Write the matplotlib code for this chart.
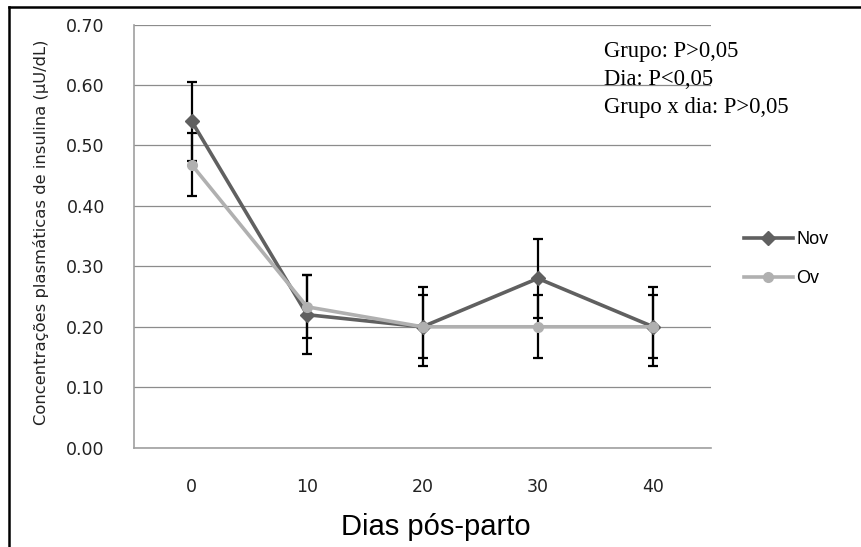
import matplotlib
matplotlib.use("Agg")
import matplotlib.pyplot as plt
from matplotlib.lines import Line2D
import numpy as np

days = ["0", "10", "20", "30", "40"]
nov = [0.54, 0.22, 0.20, 0.28, 0.20]
ov = [0.468, 0.233, 0.20, 0.20, 0.20]
nov_err = [0.065, 0.065, 0.065, 0.065, 0.065]
ov_err = [0.052, 0.052, 0.052, 0.052, 0.052]
yticks = [0.0, 0.1, 0.2, 0.3, 0.4, 0.5, 0.6, 0.7]

fig = plt.figure(figsize=(8.61, 5.47), dpi=100)
ax = fig.add_axes([134/861, 1-447.7/547, (711-134)/861, (447.7-24.5)/547])

x = np.arange(len(days))
nov_c = "#606060"
ov_c = "#b0b0b0"

ax.errorbar(x, nov, yerr=nov_err, fmt="none", ecolor="black", elinewidth=1.6,
            capsize=3.3, capthick=1.6, zorder=2)
ax.errorbar(x, ov, yerr=ov_err, fmt="none", ecolor="black", elinewidth=1.6,
            capsize=3.3, capthick=1.6, zorder=2)
ax.plot(x, nov, color=nov_c, lw=2.6, marker="D", ms=7.5, label="Nov", zorder=3)
ax.plot(x, ov, color=ov_c, lw=2.6, marker="o", ms=7, label="Ov", zorder=4)

ax.set_xlim(-0.5, 4.5)
ax.set_ylim(0, 0.7)
ax.set_xticks(x)
ax.set_xticklabels(days)
ax.set_yticks(yticks)
ax.set_yticklabels([f"{v:.2f}" for v in yticks])
ax.tick_params(axis="both", length=0, labelsize=12.5, colors="#222222")
ax.tick_params(axis="y", pad=21)
ax.tick_params(axis="x", pad=22)
ax.grid(axis="y", color="#8c8c8c", lw=0.9)
ax.set_axisbelow(True)
for s in ["top", "right"]:
    ax.spines[s].set_visible(False)
for s in ["left", "bottom"]:
    ax.spines[s].set_color("#a0a0a0")
    ax.spines[s].set_linewidth(1.2)

fig.text(41/861, 1-232/547, "Concentrações plasmáticas de insulina (µU/dL)",
         rotation=90, ha="center", va="center", fontsize=11.8, color="#222222",
         family="DejaVu Sans")
fig.text(436/861, 1-527/547, "Dias pós-parto", ha="center", va="center",
         fontsize=21, family="Liberation Sans", color="black")

fig.text(604/861, 1-41/547, "Grupo: P>0,05\nDia: P<0,05\nGrupo x dia: P>0,05",
         ha="left", va="top", fontsize=16.3, family="Liberation Serif",
         linespacing=1.45, color="black")

leg = fig.legend(loc="center left", bbox_to_anchor=(744/861, 1-259/547),
                 frameon=False, handlelength=2.7, handletextpad=0.2,
                 labelspacing=1.2, borderpad=0, borderaxespad=0,
                 prop={"family": "Liberation Sans", "size": 13})

fig.add_artist(Line2D([9/861, 1], [1-7/547, 1-7/547], color="black", lw=1.8,
                      transform=fig.transFigure))
fig.add_artist(Line2D([9/861, 9/861], [0, 1-7/547], color="black", lw=1.8,
                      transform=fig.transFigure))

fig.savefig("out.png", dpi=100)
